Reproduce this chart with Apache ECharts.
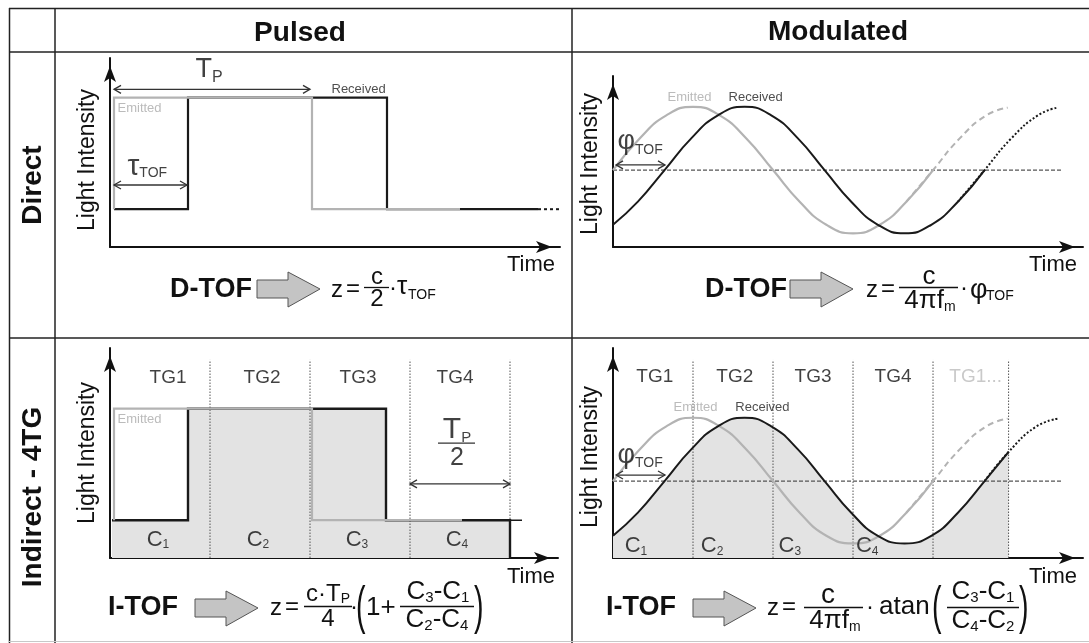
<!DOCTYPE html>
<html><head><meta charset="utf-8">
<script src="https://cdn.jsdelivr.net/npm/echarts@6/dist/echarts.min.js"></script>
<style>html,body{margin:0;padding:0;background:#fff}#c{width:1089px;height:643px}</style>
</head><body><div id="c"></div>
<script>
const FONT = '"Liberation Sans", Arial, Helvetica, sans-serif';

// ================= DATA =================
// Direct / Pulsed : time in time-gate units, light intensity in arbitrary units
const dpEmitted      = [[0.04,2.0],[0.04,7.9],[2.02,7.9],[2.02,2.0],[3.50,2.0]];
const dpReceived     = [[0.04,2.0],[0.78,2.0],[0.78,7.9],[2.77,7.9],[2.77,2.0],[4.28,2.0]];
const dpReceivedTail = [[4.28,2.0],[4.50,2.0]];

// Direct / Modulated : time in degrees of modulation phase
const dmEmitted      = [[0,4.5],[30,6.35],[60,7.7],[90,8.2],[120,7.7],[150,6.35],[180,4.5],[210,2.65],[240,1.3],[270,0.8],[300,1.3],[330,2.65],[360,4.5]];
const dmEmittedTail  = [[330,2.65],[360,4.5],[390,6.35],[420,7.7],[444,8.15]];
const dmReceived     = [[0,1.3],[28,2.65],[58,4.5],[88,6.35],[118,7.7],[148,8.2],[178,7.7],[208,6.35],[238,4.5],[268,2.65],[298,1.3],[328,0.8],[358,1.3],[388,2.65],[418,4.5]];
const dmReceivedTail = [[388,2.65],[418,4.5],[448,6.35],[478,7.7],[500,8.15]];
const dmMidline      = [[0,4.5],[505,4.5]];

// Indirect 4TG / Pulsed
const ipEmitted      = [[0.04,2.0],[0.04,7.9],[2.02,7.9],[2.02,2.0],[3.52,2.0]];
const ipReceived     = [[0.02,2.0],[0.78,2.0],[0.78,7.9],[2.76,7.9],[2.76,2.0],[4.0,2.0],[4.0,0]];
const ipReceivedTail = [[4.0,2.0],[4.12,2.0]];
const ipGates        = [1,2,3,4];
const ipGateNames    = ['TG1','TG2','TG3','TG4'];
const ipCharges      = ['1','2','3','4'];

// Indirect 4TG / Modulated
const imEmitted      = [[0,4.5],[30,6.35],[60,7.7],[90,8.2],[120,7.7],[150,6.35],[180,4.5],[210,2.65],[240,1.3],[270,0.85],[300,1.3],[330,2.65],[360,4.5]];
const imEmittedTail  = [[330,2.65],[360,4.5],[390,6.35],[420,7.7],[444,8.15]];
const imReceived     = [[0,1.3],[28,2.65],[58,4.5],[88,6.35],[118,7.7],[148,8.2],[178,7.7],[208,6.35],[238,4.5],[268,2.65],[298,1.3],[328,0.85],[358,1.3],[388,2.65],[418,4.5],[445,6.2]];
const imReceivedTail = [[418,4.5],[445,6.2],[475,7.65],[500,8.15]];
const imMidline      = [[0,4.5],[505,4.5]];
const imGates        = [90,180,270,360,445];
const imGateNames    = ['TG1','TG2','TG3','TG4','TG1...'];
const imCharges      = ['1','2','3','4'];

// ================= LAYOUT =================
const panels = [
  {left:110, top:58,  width:450, height:189, xMax:4.5,   yMax:10,    namePad:15, timeGap:-5, timePad:7},
  {left:613, top:76,  width:470, height:171, xMax:528.7, yMax:10,    namePad:5,  timeGap:-6, timePad:7},
  {left:110, top:348, width:448, height:210, xMax:4.48,  yMax:11.11, namePad:0,  timeGap:-3, timePad:8},
  {left:613, top:348, width:470, height:210, xMax:528.7, yMax:12.28, namePad:8,  timeGap:-6, timePad:8}
];
const BLACK = '#1a1a1a', GRAY = '#b3b3b3', FILL = '#e3e3e3';

function lineS(g, data, color, width, dash, z, smooth, area) {
  const s = {type:'line', xAxisIndex:g, yAxisIndex:g, data:data, smooth:smooth||false,
    symbol:'none', showSymbol:false, silent:true, animation:false, z:z,
    lineStyle:{color:color, width:width, type:dash||'solid', cap:'butt', join:'miter'},
    emphasis:{disabled:true}};
  if (area) { s.areaStyle = {color:FILL, opacity:1}; s.lineStyle = {width:0, opacity:0}; }
  return s;
}
function arrowItem(params, api) {
  const y = api.value(2);
  const a = api.coord([api.value(0), y]);
  const b = api.coord([api.value(1), y]);
  const st = {stroke:'#333', lineWidth:1.3, fill:'none'};
  const ch = [{type:'line', shape:{x1:a[0],y1:a[1],x2:b[0],y2:b[1]}, style:st}];
  if (api.value(3)) {
    ch.push({type:'polyline', shape:{points:[[a[0]+7,a[1]-4],[a[0],a[1]],[a[0]+7,a[1]+4]]}, style:st});
    ch.push({type:'polyline', shape:{points:[[b[0]-7,b[1]-4],[b[0],b[1]],[b[0]-7,b[1]+4]]}, style:st});
  }
  return {type:'group', children:ch};
}
function arrows(g, data) {
  return {type:'custom', xAxisIndex:g, yAxisIndex:g, renderItem:arrowItem, data:data, silent:true, z:7, animation:false};
}
function gates(g, xs, top) {
  return {type:'custom', xAxisIndex:g, yAxisIndex:g, silent:true, z:2, animation:false,
    data: xs.map(x => [x, top]),
    renderItem: function (params, api) {
      const a = api.coord([api.value(0), 0]);
      const b = api.coord([api.value(0), api.value(1)]);
      return {type:'line', shape:{x1:a[0],y1:a[1],x2:b[0],y2:b[1]}, style:{stroke:'#555', lineWidth:1, lineDash:[1.5,1.5]}};
    }};
}
function richStyle(m, s, pad, color) {
  return {m:{fontSize:m, fontFamily:FONT, color:color}, s:{fontSize:s, fontFamily:FONT, color:color, padding:[pad,0,0,0]}};
}
function labels(g, items) {
  return {type:'scatter', xAxisIndex:g, yAxisIndex:g, symbolSize:1, silent:true, z:8, animation:false,
    itemStyle:{color:'rgba(0,0,0,0)'},
    data: items.map(it => ({value:[it.x, it.y], label:{show:true,
      position: it.left ? 'right' : 'inside', distance:0,
      formatter: it.text, fontFamily:FONT, fontSize:it.size || 19, color: it.color || '#111',
      rich: it.rich || {}}}))};
}

const series = [
  // ---- Direct / Pulsed
  lineS(0, dpReceived, BLACK, 2.2, 'solid', 3),
  lineS(0, dpReceivedTail, BLACK, 2, [3,3], 3),
  lineS(0, dpEmitted, GRAY, 2.2, 'solid', 4),
  arrows(0, [[0.04,2.0,8.34,1],[0.04,0.77,3.28,1]]),
  labels(0, [
    {x:0.07, y:7.35, text:'Emitted', size:13, color:'#aaa', left:true},
    {x:2.21, y:8.36, text:'Received', size:13, color:'#222', left:true},
    {x:0.85, y:9.37, text:'{m|T}{s|P}', left:true, rich:richStyle(27,16,16,'#111')},
    {x:0.17, y:4.23, text:'{m|τ}{s|TOF}', left:true, rich:richStyle(30,14,12,'#111')}
  ]),
  // ---- Direct / Modulated
  lineS(1, dmMidline, '#555', 1.2, [4,2], 2),
  lineS(1, dmEmittedTail, GRAY, 2, [6,4], 3, true),
  lineS(1, dmEmitted, GRAY, 2.2, 'solid', 3, true),
  lineS(1, dmReceivedTail, BLACK, 2, [2,2], 4, true),
  lineS(1, dmReceived, BLACK, 2, 'solid', 4, true),
  arrows(1, [[3.4,58.5,4.8,1]]),
  labels(1, [
    {x:60.7, y:8.77, text:'Emitted', size:13, color:'#aaa', left:true},
    {x:129.4, y:8.77, text:'Received', size:13, color:'#222', left:true},
    {x:4.5, y:6.14, text:'{m|φ}{s|TOF}', left:true, rich:richStyle(27,14,16,'#111')}
  ]),
  // ---- Indirect / Pulsed
  lineS(2, ipReceived, BLACK, 0, 'solid', 1, false, true),
  gates(2, ipGates, 10.48),
  lineS(2, ipReceived, BLACK, 2.4, 'solid', 3),
  lineS(2, ipReceivedTail, BLACK, 1.5, 'solid', 3),
  lineS(2, ipEmitted, GRAY, 2.2, 'solid', 4),
  arrows(2, [[3.0,4.0,3.92,1],[3.28,3.65,6.08,0]]),
  labels(2, [
    {x:0.58, y:9.52, text:ipGateNames[0]}, {x:1.52, y:9.52, text:ipGateNames[1]},
    {x:2.48, y:9.52, text:ipGateNames[2]}, {x:3.45, y:9.52, text:ipGateNames[3]},
    {x:0.07, y:7.35, text:'Emitted', size:13, color:'#aaa', left:true},
    {x:0.48, y:0.95, text:'{m|C}{s|' + ipCharges[0] + '}', rich:richStyle(22,12,10,'#111')},
    {x:1.48, y:0.95, text:'{m|C}{s|' + ipCharges[1] + '}', rich:richStyle(22,12,10,'#111')},
    {x:2.47, y:0.95, text:'{m|C}{s|' + ipCharges[2] + '}', rich:richStyle(22,12,10,'#111')},
    {x:3.47, y:0.95, text:'{m|C}{s|' + ipCharges[3] + '}', rich:richStyle(22,12,10,'#111')},
    {x:3.47, y:6.77, text:'{m|T}{s|P}', rich:richStyle(30,15,16,'#111')},
    {x:3.47, y:5.29, text:'2', size:25}
  ]),
  // ---- Indirect / Modulated
  lineS(3, imReceived, BLACK, 0, 'solid', 1, true, true),
  gates(3, imGates, 11.58),
  lineS(3, imMidline, '#555', 1.2, [4,2], 2),
  lineS(3, imEmittedTail, GRAY, 2, [6,4], 3, true),
  lineS(3, imEmitted, GRAY, 2.2, 'solid', 3, true),
  lineS(3, imReceivedTail, BLACK, 2, [2,2], 4, true),
  lineS(3, imReceived, BLACK, 2, 'solid', 4, true),
  arrows(3, [[3.4,58.5,4.85,1]]),
  labels(3, [
    {x:47, y:10.58, text:imGateNames[0]}, {x:137, y:10.58, text:imGateNames[1]},
    {x:225, y:10.58, text:imGateNames[2]}, {x:315, y:10.58, text:imGateNames[3]},
    {x:408, y:10.58, text:imGateNames[4], color:'#bbb'},
    {x:67.5, y:8.83, text:'Emitted', size:13, color:'#aaa', left:true},
    {x:137, y:8.83, text:'Received', size:13, color:'#222', left:true},
    {x:4.5, y:6.02, text:'{m|φ}{s|TOF}', left:true, rich:richStyle(27,14,16,'#111')},
    {x:25.8, y:0.68, text:'{m|C}{s|' + imCharges[0] + '}', rich:richStyle(22,12,10,'#111')},
    {x:111.5, y:0.68, text:'{m|C}{s|' + imCharges[1] + '}', rich:richStyle(22,12,10,'#111')},
    {x:199, y:0.68, text:'{m|C}{s|' + imCharges[2] + '}', rich:richStyle(22,12,10,'#111')},
    {x:286, y:0.68, text:'{m|C}{s|' + imCharges[3] + '}', rich:richStyle(22,12,10,'#111')}
  ])
];

// ================= GRAPHIC (table, headers, formulas) =================
const G = [];
function L(x1,y1,x2,y2,w,c){ G.push({type:'line', shape:{x1,y1,x2,y2}, style:{stroke:c||'#222', lineWidth:w||1.5}, silent:true}); }
function T(x,y,text,size,o){ o=o||{};
  const el = {type:'text', x:x, y:y, silent:true, z:10,
    style:{text:text, fontFamily:FONT, fontSize:size, fontWeight:o.bold?'bold':'normal', fill:o.color||'#111',
      align:o.align||'left', verticalAlign:'middle', rich:o.rich}};
  if (o.rot) el.rotation = o.rot;
  if (o.sx) { el.scaleX = o.sx; }
  G.push(el);
}
function BA(x0,yc){ // block arrow
  G.push({type:'polygon', silent:true, shape:{points:[[x0,yc-9],[x0+31,yc-9],[x0+31,yc-17],[x0+63,yc],[x0+31,yc+18],[x0+31,yc+9],[x0,yc+9]]},
    style:{fill:'#c4c4c4', stroke:'#555', lineWidth:1}});
}
function sub(m,s,pad){ return {a:{fontSize:m, fontFamily:FONT, fill:'#111'}, b:{fontSize:s, fontFamily:FONT, fill:'#111', padding:[pad,0,0,0]}}; }

// table
L(9,8.5,1089,8.5); L(9.5,8,9.5,643); L(9,52,1089,52); L(55,8,55,643);
L(572,8,572,643); L(9,338,1089,338); L(9,641.5,1089,641.5,1,'#c8c8c8');
// headers
T(300,33,'Pulsed',28,{bold:true,align:'center'});
T(838,32,'Modulated',28,{bold:true,align:'center'});
T(33,185,'Direct',28,{bold:true,align:'center',rot:Math.PI/2});
T(33,497,'Indirect - 4TG',28,{bold:true,align:'center',rot:Math.PI/2});

// formula TL
T(170,290,'D-TOF',27,{bold:true}); BA(257,289);
T(331,290,'z',24); T(346,289,'=',24);
T(377,277,'c',24,{align:'center'}); L(364,287.5,389,287.5,1.3,'#111'); T(377,299,'2',24,{align:'center'});
T(389,288,'·',24); T(397,287,'τ',26); T(408,295,'TOF',14);
// formula TR
T(705,290,'D-TOF',27,{bold:true}); BA(790,289);
T(866,290,'z',24); T(881,289,'=',24);
T(929,277,'c',26,{align:'center'}); L(899,287.5,958,287.5,1.3,'#111');
T(930,301,'{a|4πf}{b|m}',24,{align:'center',rich:sub(26,14,12)});
T(960,288,'·',24); T(970,291,'φ',27); T(986,296,'TOF',14);
// formula BL
T(108,608,'I-TOF',27,{bold:true}); BA(195,608);
T(270,608,'z',24); T(285,607,'=',24);
T(328,594,'{a|c·T}{b|P}',24,{align:'center',rich:sub(24,14,10)});
L(304,606.5,352,606.5,1.3,'#111'); T(328,619,'4',24,{align:'center'});
T(350,607,'·',24);
T(356,609,'(',52,{sx:0.55}); T(366,608,'1+',26);
T(438,592,'{a|C}{b|3}{a|-C}{b|1}',26,{align:'center',rich:sub(26,15,12)});
L(400,606.5,474,606.5,1.3,'#111');
T(437,620,'{a|C}{b|2}{a|-C}{b|4}',26,{align:'center',rich:sub(26,15,12)});
T(474,609,')',52,{sx:0.55});
// formula BR
T(606,608,'I-TOF',27,{bold:true}); BA(693,608);
T(767,608,'z',24); T(782,607,'=',24);
T(828,595,'c',28,{align:'center'}); L(804,607.5,863,607.5,1.3,'#111');
T(835,621,'{a|4πf}{b|m}',24,{align:'center',rich:sub(26,14,12)});
T(866,607,'·',24); T(879,607,'atan',26);
T(932,609,'(',52,{sx:0.55});
T(983,592,'{a|C}{b|3}{a|-C}{b|1}',26,{align:'center',rich:sub(26,15,12)});
L(947,607.5,1019,607.5,1.3,'#111');
T(983,621,'{a|C}{b|4}{a|-C}{b|2}',26,{align:'center',rich:sub(26,15,12)});
T(1019,609,')',52,{sx:0.55});

const option = {
  backgroundColor:'#fff',
  animation:false,
  grid: panels.map(p => ({left:p.left, top:p.top, width:p.width, height:p.height, containLabel:false})),
  xAxis: panels.map((p,i) => ({gridIndex:i, type:'value', min:0, max:p.xMax,
    axisLine:{show:true, onZero:false, symbol:['none','arrow'], symbolSize:[9,16], symbolOffset:[0,-8], lineStyle:{color:'#111', width:2}},
    axisTick:{show:false}, axisLabel:{show:false}, splitLine:{show:false},
    name:'Time', nameLocation:'end', nameGap:p.timeGap,
    nameTextStyle:{fontFamily:FONT, fontSize:22, color:'#111', align:'right', verticalAlign:'top', padding:[p.timePad,0,0,0]}})),
  yAxis: panels.map((p,i) => ({gridIndex:i, type:'value', min:0, max:p.yMax,
    axisLine:{show:true, onZero:false, symbol:['none','arrow'], symbolSize:[9,16], symbolOffset:[0,-8], lineStyle:{color:'#111', width:2}},
    axisTick:{show:false}, axisLabel:{show:false}, splitLine:{show:false},
    name:'Light Intensity', nameLocation:'middle', nameGap:11, nameRotate:90,
    nameTextStyle:{fontFamily:FONT, fontSize:23, color:'#111', padding:[0,p.namePad,0,0]}})),
  series: series,
  graphic: G
};
const chart = echarts.init(document.getElementById('c'), null, {renderer:'canvas'});
chart.setOption(option);
</script></body></html>
